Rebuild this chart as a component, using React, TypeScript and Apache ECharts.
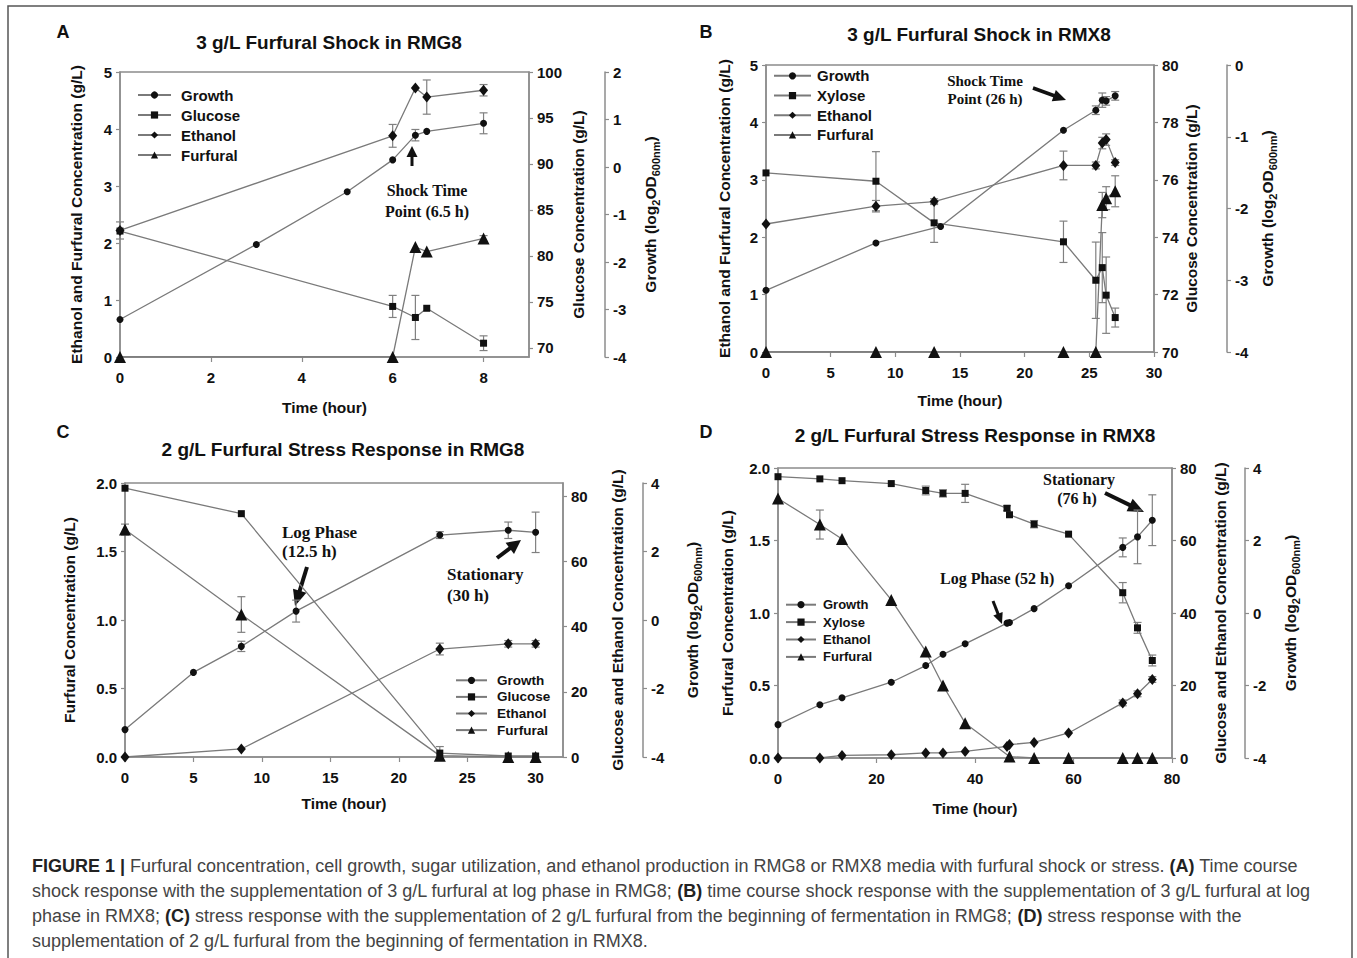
import React, { useEffect, useRef } from "react";
import * as echarts from "echarts";

// ---------- Panel A: 3 g/L furfural shock in RMG8 ----------
const aGrowthTime = [0, 3, 5, 6, 6.5, 6.75, 8];
const aGrowth = [-3.21, -1.63, -0.52, 0.15, 0.67, 0.75, 0.92];
const aGrowthErr = [0, 0, 0, 0, 0.12, 0, 0.22];
const aTime = [0, 6, 6.5, 6.75, 8];
const aGlucose = [82.7, 74.5, 73.3, 74.3, 70.5];
const aGlucoseErr = [0, 1.2, 2.4, 0, 0.8];
const aEthanol = [2.22, 3.88, 4.72, 4.56, 4.68];
const aEthanolErr = [0.15, 0.2, 0, 0.3, 0.1];
const aFurfural = [0, 0, 1.93, 1.85, 2.08];
const aFurfuralErr = [0, 0, 0, 0, 0.05];

// ---------- Panel B: 3 g/L furfural shock in RMX8 ----------
const bTime = [0, 8.5, 13, 23, 25.5, 26, 26.3, 27];
const bGrowthTime = [0, 8.5, 13.5, 23, 25.5, 26, 26.3, 27];
const bGrowth = [-3.14, -2.48, -2.25, -0.91, -0.63, -0.49, -0.5, -0.43];
const bGrowthErr = [0, 0, 0, 0, 0.06, 0.1, 0.06, 0.06];
const bXylose = [76.24, 75.95, 74.5, 73.84, 72.5, 72.94, 71.98, 71.2];
const bXyloseErr = [0, 1.03, 0.68, 0.72, 1.33, 1.22, 1.33, 0.33];
const bEthanol = [2.23, 2.54, 2.62, 3.25, 3.25, 3.64, 3.7, 3.3];
const bEthanolErr = [0, 0.1, 0.05, 0.25, 0.06, 0.1, 0.1, 0.05];
const bFurfural = [0, 0, 0, 0, 0, 2.56, 2.68, 2.8];
const bFurfuralErr = [0, 0, 0, 0, 0, 0.22, 0.2, 0.27];

// ---------- Panel C: 2 g/L furfural stress in RMG8 ----------
const cTime = [0, 8.5, 23, 28, 30];
const cGrowthTime = [0, 5, 8.5, 12.5, 23, 28, 30];
const cGrowth = [-3.2, -1.53, -0.77, 0.26, 2.48, 2.62, 2.56];
const cGrowthErr = [0, 0, 0.15, 0.32, 0.1, 0.24, 0.59];
const cGlucose = [82.4, 74.6, 1.2, 0.3, 0.3];
const cGlucoseErr = [0, 0, 2, 0, 0];
const cEthanol = [0, 2.46, 33.1, 34.7, 34.7];
const cEthanolErr = [0, 0, 1.8, 1, 1];
const cFurfural = [1.66, 1.04, 0.01, 0, 0];
const cFurfuralErr = [0.04, 0.13, 0, 0, 0];

// ---------- Panel D: 2 g/L furfural stress in RMX8 ----------
const dTime = [0, 8.5, 13, 23, 30, 33.5, 38, 46.5, 47, 52, 59, 70, 73, 76];
const dXylose = [77.6, 77.0, 76.5, 75.7, 73.8, 73.0, 73.0, 68.9, 67.1, 64.5, 61.75, 45.6, 35.9, 26.9];
const dXyloseErr = [0, 0, 0, 0, 1.2, 1, 2.5, 0.7, 0, 1, 0, 2.8, 1.5, 1.5];
const dGrowth = [-3.08, -2.53, -2.34, -1.91, -1.45, -1.14, -0.85, -0.28, -0.26, 0.12, 0.75, 1.81, 2.1, 2.56];
const dGrowthErr = [0, 0, 0, 0, 0, 0, 0, 0, 0, 0, 0, 0.26, 0.74, 0.7];
const dEthanol = [0, 0, 0.7, 0.9, 1.4, 1.4, 1.8, 3.2, 3.7, 4.3, 6.9, 15.2, 17.7, 21.65];
const dEthanolErr = [0, 0, 0, 0, 0, 0, 0, 0, 0, 0, 0, 0.8, 0.8, 0.8];
const dFurfuralTime = [0, 8.5, 13, 23, 30, 33.5, 38, 47, 52, 59, 70, 73, 76];
const dFurfural = [1.79, 1.61, 1.51, 1.09, 0.735, 0.5, 0.24, 0.01, 0, 0, 0, 0, 0];
const dFurfuralErr = [0, 0.1, 0, 0, 0, 0, 0, 0, 0, 0, 0, 0, 0];

// ---------- Axis tick values ----------
const aXTicks = [0, 2, 4, 6, 8];
const aGlucoseTicks = [70, 75, 80, 85, 90, 95, 100];
const cXTicks = [0, 5, 10, 15, 20, 25, 30];
const cRightTicks = [0, 20, 40, 60, 80];

const captionLines = [
  "{b|FIGURE 1 |} Furfural concentration, cell growth, sugar utilization, and ethanol production in RMG8 or RMX8 media with furfural shock or stress. {b|(A)} Time course",
  "shock response with the supplementation of 3 g/L furfural at log phase in RMG8; {b|(B)} time course shock response with the supplementation of 3 g/L furfural at log",
  "phase in RMX8; {b|(C)} stress response with the supplementation of 2 g/L furfural from the beginning of fermentation in RMG8; {b|(D)} stress response with the",
  "supplementation of 2 g/L furfural from the beginning of fermentation in RMX8.",
];

const SANS = "Liberation Sans, Arial, sans-serif";
const SERIF = "Liberation Serif, Times New Roman, serif";
const AX = "#8c8c8c";
const LINE = "#7a7a7a";
const INK = "#111";

function lineSeries(name: string, xs: number[], ys: number[], g: number, yIdx: number, symbol: string, size: any) {
  return {
    type: "line",
    name,
    xAxisIndex: g,
    yAxisIndex: yIdx,
    data: xs.map((x, i) => [x, ys[i]]),
    symbol,
    symbolSize: size,
    showSymbol: true,
    lineStyle: { color: LINE, width: 1.3 },
    itemStyle: { color: INK },
    silent: true,
    z: 3,
  };
}

function errSeries(xs: number[], ys: number[], es: number[], g: number, yIdx: number) {
  const data: number[][] = [];
  xs.forEach((x, i) => {
    if (es[i] > 0) data.push([x, ys[i] - es[i], ys[i] + es[i]]);
  });
  return {
    type: "custom",
    xAxisIndex: g,
    yAxisIndex: yIdx,
    data,
    silent: true,
    z: 2,
    encode: { x: 0, y: [1, 2] },
    renderItem: (_p: any, api: any) => {
      const x = api.value(0);
      const p1 = api.coord([x, api.value(1)]);
      const p2 = api.coord([x, api.value(2)]);
      const w = 4;
      const st = { stroke: "#808080", lineWidth: 1.2 };
      return {
        type: "group",
        children: [
          { type: "line", shape: { x1: p1[0], y1: p1[1], x2: p2[0], y2: p2[1] }, style: st },
          { type: "line", shape: { x1: p1[0] - w, y1: p1[1], x2: p1[0] + w, y2: p1[1] }, style: st },
          { type: "line", shape: { x1: p2[0] - w, y1: p2[1], x2: p2[0] + w, y2: p2[1] }, style: st },
        ],
      };
    },
  };
}

const labelStyle = { fontFamily: SANS, fontWeight: "bold", fontSize: 15, color: INK };
const nameStyle = { fontFamily: SANS, fontWeight: "bold", fontSize: 15.5, color: INK };

function xAxis(g: number, max: number, interval: number | null, ticks: number[] | null, nameGap: number) {
  const ax: any = {
    type: "value",
    gridIndex: g,
    min: 0,
    max,
    axisLine: { show: true, onZero: false, lineStyle: { color: AX, width: 1.5 } },
    axisTick: { show: true, length: 5, lineStyle: { color: AX, width: 1.2 } },
    axisLabel: { ...labelStyle, margin: 13 },
    splitLine: { show: false },
    name: "Time (hour)",
    nameLocation: "middle",
    nameGap,
    nameTextStyle: nameStyle,
  };
  if (interval != null) ax.interval = interval;
  if (ticks) {
    ax.axisTick.customValues = ticks;
    ax.axisLabel.customValues = ticks;
  }
  return ax;
}

function yAxis(
  g: number,
  position: string,
  offset: number,
  min: number,
  max: number,
  interval: number | null,
  ticks: number[] | null,
  name: string,
  nameGap: number,
  fmt?: (v: number) => string,
  rich?: any
) {
  const ax: any = {
    type: "value",
    gridIndex: g,
    position,
    offset,
    min,
    max,
    axisLine: { show: true, onZero: false, lineStyle: { color: AX, width: 1.5 } },
    axisTick: { show: true, length: 4, lineStyle: { color: AX, width: 1.2 } },
    axisLabel: { ...labelStyle, margin: 8 },
    splitLine: { show: false },
    name,
    nameLocation: "middle",
    nameGap,
    nameTextStyle: rich ? { ...nameStyle, rich } : nameStyle,
  };
  if (interval != null) ax.interval = interval;
  if (ticks) {
    ax.axisTick.customValues = ticks;
    ax.axisLabel.customValues = ticks;
  }
  if (fmt) ax.axisLabel.formatter = fmt;
  return ax;
}

const growthRich = {
  n: { fontFamily: SANS, fontWeight: "bold", fontSize: 15.5, color: INK, lineHeight: 22 },
  s: { fontFamily: SANS, fontWeight: "bold", fontSize: 11, color: INK, lineHeight: 12, verticalAlign: "bottom" },
};
const growthName = "{n|Growth (log}{s|2}{n|OD}{s|600nm}{n|)}";

function arrow(x1: number, y1: number, x2: number, y2: number, head: number, hw: number, lw: number) {
  const dx = x2 - x1;
  const dy = y2 - y1;
  const L = Math.hypot(dx, dy);
  const ux = dx / L;
  const uy = dy / L;
  const bx = x2 - ux * head;
  const by = y2 - uy * head;
  const px = -uy;
  const py = ux;
  return [
    { type: "line", shape: { x1, y1, x2: bx + ux * 2, y2: by + uy * 2 }, style: { stroke: INK, lineWidth: lw } },
    {
      type: "polygon",
      shape: { points: [[x2, y2], [bx + (px * hw) / 2, by + (py * hw) / 2], [bx - (px * hw) / 2, by - (py * hw) / 2]] },
      style: { fill: INK },
    },
  ];
}

function txt(x: number, y: number, text: string, size: number, family: string, align = "center", weight = "bold") {
  return {
    type: "text",
    x,
    y,
    style: { text, fontSize: size, fontFamily: family, fontWeight: weight, fill: INK, align, verticalAlign: "middle" },
  };
}

function legend(names: string[], left: number, top: number, w: number, size: number, lh: number, gap: number) {
  return {
    data: names,
    orient: "vertical",
    left,
    top,
    itemWidth: w,
    itemHeight: 9,
    itemGap: 0,
    padding: 0,
    selectedMode: false,
    textStyle: { fontFamily: SANS, fontWeight: "bold", fontSize: size, lineHeight: lh, color: INK, padding: [0, 0, 0, gap] },
  };
}

export default function App() {
  const ref = useRef<HTMLDivElement>(null);
  useEffect(() => {
    if (!ref.current) return;
    const chart = echarts.init(ref.current, null, { renderer: "svg" });

    const circ = 7;
    const sq = 7;
    const dia = [9, 11];
    const tri = 12;

    const series: any[] = [
      // A
      lineSeries("Growth", aGrowthTime, aGrowth, 0, 2, "circle", circ),
      lineSeries("Glucose", aTime, aGlucose, 0, 1, "rect", sq),
      lineSeries("Ethanol", aTime, aEthanol, 0, 0, "diamond", dia),
      lineSeries("Furfural", aTime, aFurfural, 0, 0, "triangle", tri),
      errSeries(aGrowthTime, aGrowth, aGrowthErr, 0, 2),
      errSeries(aTime, aGlucose, aGlucoseErr, 0, 1),
      errSeries(aTime, aEthanol, aEthanolErr, 0, 0),
      errSeries(aTime, aFurfural, aFurfuralErr, 0, 0),
      // B
      lineSeries("Growth", bGrowthTime, bGrowth, 1, 5, "circle", circ),
      lineSeries("Xylose", bTime, bXylose, 1, 4, "rect", sq),
      lineSeries("Ethanol", bTime, bEthanol, 1, 3, "diamond", dia),
      lineSeries("Furfural", bTime, bFurfural, 1, 3, "triangle", tri),
      errSeries(bGrowthTime, bGrowth, bGrowthErr, 1, 5),
      errSeries(bTime, bXylose, bXyloseErr, 1, 4),
      errSeries(bTime, bEthanol, bEthanolErr, 1, 3),
      errSeries(bTime, bFurfural, bFurfuralErr, 1, 3),
      // C
      lineSeries("Growth", cGrowthTime, cGrowth, 2, 8, "circle", circ),
      lineSeries("Glucose", cTime, cGlucose, 2, 7, "rect", sq),
      lineSeries("Ethanol", cTime, cEthanol, 2, 7, "diamond", dia),
      lineSeries("Furfural", cTime, cFurfural, 2, 6, "triangle", tri),
      errSeries(cGrowthTime, cGrowth, cGrowthErr, 2, 8),
      errSeries(cTime, cGlucose, cGlucoseErr, 2, 7),
      errSeries(cTime, cEthanol, cEthanolErr, 2, 7),
      errSeries(cTime, cFurfural, cFurfuralErr, 2, 6),
      // D
      lineSeries("Growth", dTime, dGrowth, 3, 11, "circle", circ),
      lineSeries("Xylose", dTime, dXylose, 3, 10, "rect", sq),
      lineSeries("Ethanol", dTime, dEthanol, 3, 10, "diamond", dia),
      lineSeries("Furfural", dFurfuralTime, dFurfural, 3, 9, "triangle", tri),
      errSeries(dTime, dGrowth, dGrowthErr, 3, 11),
      errSeries(dTime, dXylose, dXyloseErr, 3, 10),
      errSeries(dTime, dEthanol, dEthanolErr, 3, 10),
      errSeries(dFurfuralTime, dFurfural, dFurfuralErr, 3, 9),
    ];

    const f1 = (v: number) => v.toFixed(1);

    const graphic: any[] = [
      // figure frame
      { type: "polyline", shape: { points: [[8, 962], [8, 6], [1352, 6], [1352, 962]] }, style: { stroke: "#555", lineWidth: 1.5, fill: "none" } },
      // panel letters
      txt(63, 32, "A", 18, SANS),
      txt(706, 32, "B", 18, SANS),
      txt(63, 432, "C", 18, SANS),
      txt(706, 432, "D", 18, SANS),
      // titles
      txt(329, 42, "3 g/L Furfural Shock in RMG8", 19, SANS),
      txt(979, 34, "3 g/L Furfural Shock in RMX8", 19, SANS),
      txt(343, 449, "2 g/L Furfural Stress Response in RMG8", 19, SANS),
      txt(975, 435, "2 g/L Furfural Stress Response in RMX8", 19, SANS),
      // annotations
      txt(427, 190, "Shock Time", 16, SERIF),
      txt(427, 211, "Point (6.5 h)", 16, SERIF),
      ...arrow(412, 166, 412, 146, 11, 11, 3),
      txt(985, 81, "Shock Time", 15, SERIF),
      txt(985, 99, "Point (26 h)", 15, SERIF),
      ...arrow(1033, 88, 1066, 100, 13, 12, 3.5),
      txt(282, 532, "Log Phase", 17, SERIF, "left"),
      txt(282, 551, "(12.5 h)", 17, SERIF, "left"),
      ...arrow(307, 567, 295, 606, 16, 14, 4),
      txt(447, 574, "Stationary", 17, SERIF, "left"),
      txt(447, 595, "(30 h)", 17, SERIF, "left"),
      ...arrow(497, 558, 521, 540, 14, 14, 4),
      txt(940, 578, "Log Phase (52 h)", 16, SERIF, "left"),
      ...arrow(993, 601, 1002, 624, 11, 10, 3),
      txt(1079, 479, "Stationary", 16, SERIF),
      txt(1077, 498, "(76 h)", 16, SERIF),
      ...arrow(1105, 493, 1144, 512, 16, 14, 4),
      // caption
      ...captionLines.map((line, i) => ({
        type: "text",
        x: 32,
        y: 866 + i * 25,
        style: {
          text: line,
          fontSize: 18,
          fontFamily: SANS,
          fill: "#444",
          verticalAlign: "middle",
          rich: { b: { fontSize: 18, fontFamily: SANS, fontWeight: "bold", fill: "#222" } },
        },
      })),
    ];

    chart.setOption({
      animation: false,
      backgroundColor: "#fff",
      grid: [
        { left: 120, top: 72, width: 409, height: 285, show: true, borderColor: AX, borderWidth: 1.5 },
        { left: 766, top: 65, width: 388, height: 287, show: true, borderColor: AX, borderWidth: 1.5 },
        { left: 125, top: 483, width: 438, height: 274, show: true, borderColor: AX, borderWidth: 1.5 },
        { left: 778, top: 468, width: 394, height: 290, show: true, borderColor: AX, borderWidth: 1.5 },
      ],
      xAxis: [
        xAxis(0, 9, null, aXTicks, 42),
        xAxis(1, 30, 5, null, 40),
        xAxis(2, 32, null, cXTicks, 38),
        xAxis(3, 80, 20, null, 42),
      ],
      yAxis: [
        yAxis(0, "left", 0, 0, 5, 1, null, "Ethanol and Furfural Concentration (g/L)", 36),
        yAxis(0, "right", 0, 69, 100, null, aGlucoseTicks, "Glucose Concentration (g/L)", 41),
        yAxis(0, "right", 76, -4, 2, 1, null, growthName, 34, undefined, growthRich),
        yAxis(1, "left", 0, 0, 5, 1, null, "Ethanol and Furfural Concentration (g/L)", 34),
        yAxis(1, "right", 0, 70, 80, 2, null, "Glucose Concentration (g/L)", 29),
        yAxis(1, "right", 73, -4, 0, 1, null, growthName, 29, undefined, growthRich),
        yAxis(2, "left", 0, 0, 2, 0.5, null, "Furfural Concentration (g/L)", 48, f1),
        yAxis(2, "right", 0, 0, 84, null, cRightTicks, "Glucose and Ethanol Concentration (g/L)", 46),
        yAxis(2, "right", 80, -4, 4, 2, null, growthName, 38, undefined, growthRich),
        yAxis(3, "left", 0, 0, 2, 0.5, null, "Furfural Concentration (g/L)", 43, f1),
        yAxis(3, "right", 0, 0, 80, 20, null, "Glucose and Ethanol Concentration (g/L)", 40),
        yAxis(3, "right", 73, -4, 4, 2, null, growthName, 34, undefined, growthRich),
      ],
      legend: [
        legend(["Growth", "Glucose", "Ethanol", "Furfural"], 137, 85, 33, 15, 20, 5),
        legend(["Growth", "Xylose", "Ethanol", "Furfural"], 773, 66, 37, 15, 19.7, 1),
        legend(["Growth", "Glucose", "Ethanol", "Furfural"], 455, 672, 31, 13.5, 16.6, 5),
        legend(["Growth", "Xylose", "Ethanol", "Furfural"], 785, 596, 30, 13, 17.4, 2),
      ],
      series,
      graphic,
    });
    return () => chart.dispose();
  }, []);
  return <div ref={ref} style={{ position: "absolute", left: 0, top: 0, width: 1357, height: 958 }} />;
}
